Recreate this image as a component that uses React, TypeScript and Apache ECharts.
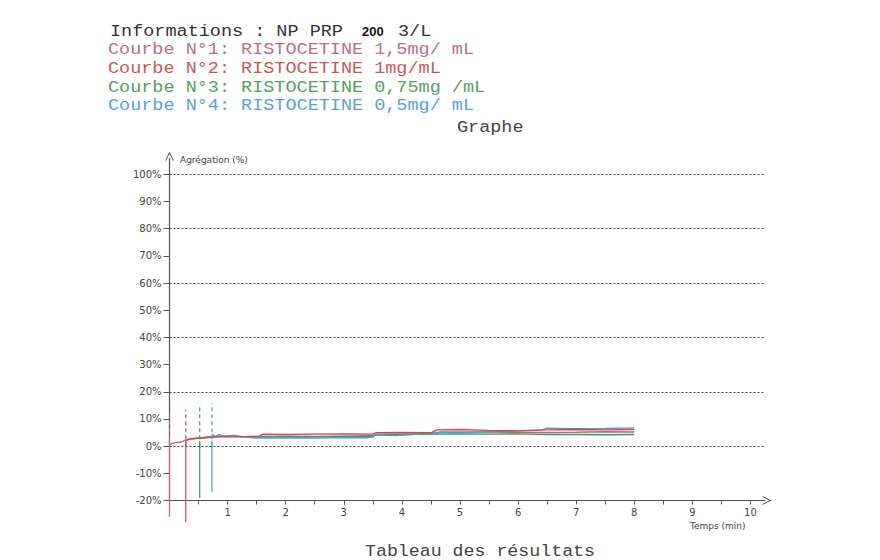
import React, { useEffect, useRef } from "react";
import * as echarts from "echarts";

// ---- data ----
const curveNames = ["Courbe N°1", "Courbe N°2", "Courbe N°3", "Courbe N°4"];
const curveColors = ["#c0608c", "#d24a44", "#3f9a4e", "#3ea4da"];

const times1 = [0, 0.05, 0.1, 0.2, 0.3, 0.45, 0.6, 0.8, 1.0, 1.3, 1.6, 2.0, 2.5, 3.0, 3.5, 3.55, 4.0, 4.6, 4.65, 5.5, 6.5, 7.0, 7.5, 8.0];
const vals1 = [0.5, 1.0, 1.3, 1.5, 2.5, 2.8, 3.0, 3.4, 3.6, 3.5, 3.6, 3.7, 3.6, 3.7, 3.8, 4.3, 4.4, 4.5, 5.2, 5.2, 5.0, 5.1, 5.3, 5.2];

const times2 = [0.28, 0.35, 0.5, 0.7, 0.9, 1.2, 1.55, 1.6, 2.0, 2.5, 3.0, 3.5, 3.55, 4.0, 4.5, 4.6, 5.0, 5.5, 6.0, 6.5, 7.0, 7.5, 8.0];
const vals2 = [2.0, 2.6, 3.0, 3.4, 3.6, 3.5, 3.6, 4.4, 4.3, 4.4, 4.5, 4.4, 4.9, 5.0, 4.9, 6.0, 6.1, 5.8, 5.6, 6.0, 6.1, 6.0, 6.1];

const times3 = [0.52, 0.6, 0.8, 1.0, 1.5, 2.0, 2.5, 3.0, 3.5, 3.55, 4.0, 4.5, 5.0, 5.5, 6.0, 6.5, 7.0, 7.5, 8.0];
const vals3 = [2.8, 3.2, 3.5, 3.6, 3.4, 3.5, 3.4, 3.6, 3.5, 4.2, 4.3, 4.4, 4.5, 4.4, 4.5, 4.3, 4.3, 4.2, 4.3];

const times4 = [0.73, 0.78, 0.85, 0.95, 1.1, 1.3, 1.5, 1.8, 2.2, 2.6, 3.0, 3.4, 3.5, 3.55, 3.9, 4.3, 4.6, 5.0, 5.5, 6.0, 6.4, 6.5, 7.0, 7.5, 8.0];
const vals4 = [4.5, 3.5, 4.2, 3.6, 4.0, 3.3, 3.0, 3.0, 3.1, 3.0, 3.2, 3.1, 3.4, 4.2, 3.9, 4.4, 5.0, 4.9, 5.3, 5.6, 6.0, 6.6, 6.4, 6.5, 6.7];

// injection spikes (time, dashed top, solid bottom)
const spikeTimes = [0, 0.28, 0.52, 0.73];
const spikeTops = [13, 13.5, 14.5, 15.7];
const spikeBottoms = [-26, -28, -19, -17];

const yTickValues = [-20, -10, 0, 10, 20, 30, 40, 50, 60, 70, 80, 90, 100];
const gridLineValues = [0, 20, 40, 60, 80, 100];
const xTickValues = [0.5, 1, 1.5, 2, 2.5, 3, 3.5, 4, 4.5, 5, 5.5, 6, 6.5, 7, 7.5, 8, 8.5, 9, 9.5, 10];
const xLabelValues = [1, 2, 3, 4, 5, 6, 7, 8, 9, 10];

const headerLines = [
  "Courbe N°1: RISTOCETINE 1,5mg/ mL",
  "Courbe N°2: RISTOCETINE 1mg/mL",
  "Courbe N°3: RISTOCETINE 0,75mg /mL",
  "Courbe N°4: RISTOCETINE 0,5mg/ mL",
];
const headerColors = ["#bb6d8e", "#c65a54", "#55a062", "#55a2da"];

const MONO = "'Liberation Mono', 'DejaVu Sans Mono', monospace";
const SANS = "'DejaVu Sans', sans-serif";

const zip = (t: number[], v: number[]) => t.map((x, i) => [x, v[i]]);

export default function App() {
  const ref = useRef<HTMLDivElement>(null);
  useEffect(() => {
    if (!ref.current) return;
    const chart = echarts.init(ref.current, null, { renderer: "svg" });
    const curves = [zip(times1, vals1), zip(times2, vals2), zip(times3, vals3), zip(times4, vals4)];
    const order = [0, 2, 3, 1];
    const series: any[] = [];
    series.push({
      type: "line",
      data: [],
      silent: true,
      markLine: {
        silent: true,
        symbol: "none",
        label: { show: false },
        lineStyle: { color: "#444", width: 1, type: [2, 2] },
        data: gridLineValues.map((v) => ({ yAxis: v })),
      },
    });
    order.forEach((i) => {
      series.push({
        type: "line",
        name: curveNames[i],
        data: curves[i],
        showSymbol: false,
        lineStyle: { color: curveColors[i], width: 1.4 },
        itemStyle: { color: curveColors[i] },
      });
    });
    spikeTimes.forEach((t, i) => {
      series.push({
        type: "line",
        data: [[t, 0], [t, spikeTops[i]]],
        showSymbol: false,
        clip: false,
        lineStyle: { color: curveColors[i], width: 1.2, type: [4, 3] },
      });
      series.push({
        type: "line",
        data: [[t, 2], [t, spikeBottoms[i]]],
        showSymbol: false,
        clip: false,
        lineStyle: { color: curveColors[i], width: 1.2 },
      });
    });

    const arrow = "path://M0,10 L5,0 L10,10 L8.8,10 L5,2.4 L1.2,10 Z";
    const SX = 1.088;
    const headStyle = (text: string, fill: string) => ({
      text,
      font: `17px ${MONO}`,
      fill,
      lineHeight: 17,
    });
    const graphics: any[] = [
      {
        type: "text",
        left: 110,
        top: 23,
        scaleX: SX,
        style: headStyle("Informations : NP PRP", "#333"),
      },
      {
        type: "text",
        left: 362,
        top: 25,
        style: { text: "200", font: `bold 13px 'Liberation Sans', sans-serif`, fill: "#111", lineHeight: 13 },
      },
      {
        type: "text",
        left: 398,
        top: 23,
        scaleX: SX,
        style: headStyle("3/L", "#333"),
      },
      ...headerLines.map((t, i) => ({
        type: "text",
        left: 108,
        top: 41 + i * 18.7,
        scaleX: SX,
        style: headStyle(t, headerColors[i]),
      })),
      {
        type: "text",
        left: 457,
        top: 119,
        scaleX: SX,
        style: headStyle("Graphe", "#444"),
      },
      {
        type: "text",
        left: 180,
        top: 155,
        style: { text: "Agrégation (%)", font: `9px ${SANS}`, fill: "#444" },
      },
      {
        type: "text",
        left: 690,
        top: 521,
        style: { text: "Temps (min)", font: `9px ${SANS}`, fill: "#444" },
      },
      {
        type: "text",
        left: 365,
        top: 543,
        scaleX: 1.075,
        style: { text: "Tableau des résultats", font: `17px ${MONO}`, fill: "#444", lineHeight: 17 },
      },
    ];

    chart.setOption({
      animation: false,
      backgroundColor: "#fff",
      grid: { left: 169.5, right: 115, top: 158, bottom: 59.5, containLabel: false },
      xAxis: {
        type: "value",
        min: 0,
        max: 10.25,
        axisLine: {
          show: true,
          onZero: false,
          symbol: ["none", arrow],
          symbolSize: [9, 11],
          symbolOffset: [0, 2],
          lineStyle: { color: "#555", width: 1.2 },
        },
        axisTick: { show: true, length: 4, customValues: xTickValues, lineStyle: { color: "#555" } },
        axisLabel: {
          customValues: xLabelValues,
          margin: 7,
          color: "#444",
          fontFamily: SANS,
          fontSize: 10,
        },
        splitLine: { show: false },
      },
      yAxis: {
        type: "value",
        min: -20,
        max: 106,
        axisLine: {
          show: true,
          onZero: false,
          symbol: ["none", arrow],
          symbolSize: [9, 11],
          symbolOffset: [0, 2],
          lineStyle: { color: "#555", width: 1.2 },
        },
        axisTick: { show: true, length: 6, customValues: yTickValues, lineStyle: { color: "#555" } },
        axisLabel: {
          customValues: yTickValues,
          margin: 8,
          color: "#444",
          fontFamily: SANS,
          fontSize: 10,
          formatter: (v: number) => `${v}%`,
        },
        splitLine: { show: false },
      },
      graphic: graphics,
      series,
    });
    return () => chart.dispose();
  }, []);
  return (
    <div
      ref={ref}
      style={{ position: "absolute", left: 0, top: 0, width: 880, height: 560 }}
    />
  );
}
